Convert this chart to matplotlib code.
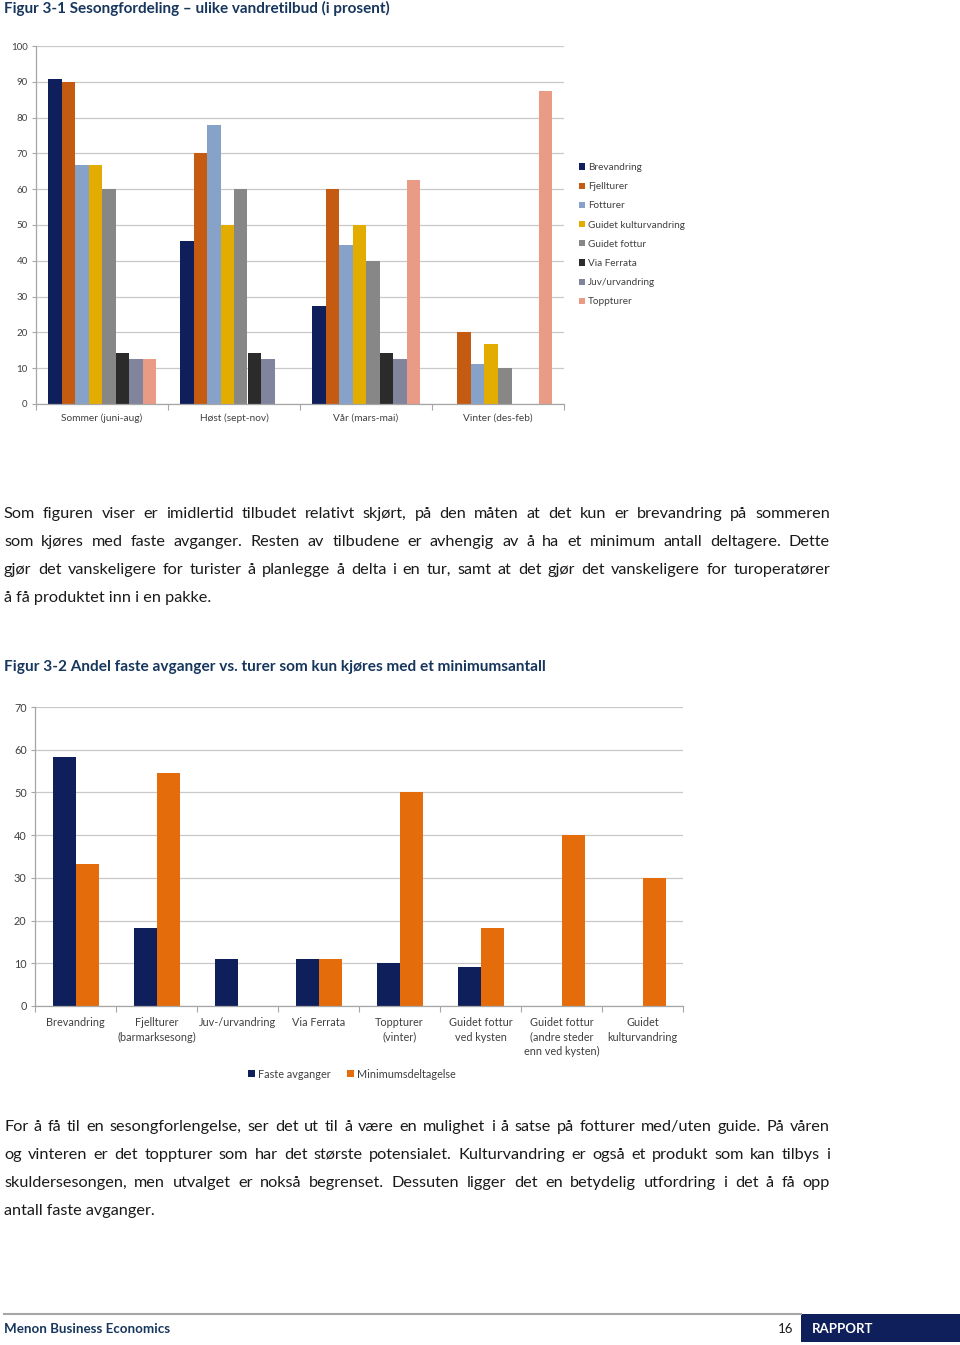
import numpy as np
import matplotlib
matplotlib.use("Agg")
import matplotlib.pyplot as plt
from matplotlib.patches import Rectangle

plt.rcParams['font.family'] = ['Lato', 'DejaVu Sans']

W, H = 960, 1345

# --- Figur 3-1 data ---
seasons = ['Sommer (juni-aug)', 'Høst (sept-nov)', 'Vår (mars-mai)', 'Vinter (des-feb)']
offers = ['Brevandring', 'Fjellturer', 'Fotturer', 'Guidet kulturvandring',
          'Guidet fottur', 'Via Ferrata', 'Juv/urvandring', 'Toppturer']
brevandring = [90.9, 45.5, 27.3, 0]
fjellturer = [90.0, 70.0, 60.0, 20.0]
fotturer = [66.7, 77.8, 44.4, 11.1]
kulturvandring = [66.7, 50.0, 50.0, 16.7]
guidet_fottur = [60.0, 60.0, 40.0, 10.0]
via_ferrata = [14.3, 14.3, 14.3, 0]
juv = [12.5, 12.5, 12.5, 0]
toppturer = [12.5, 0, 62.5, 87.5]
season_values = [brevandring, fjellturer, fotturer, kulturvandring,
                 guidet_fottur, via_ferrata, juv, toppturer]
offer_colors = ['#0E1F5B', '#C55A11', '#86A2C8', '#E3AC00',
                '#878787', '#2B2B2B', '#80859D', '#E99B85']

# --- Figur 3-2 data ---
tour_types = ['Brevandring', 'Fjellturer\n(barmarksesong)', 'Juv-/urvandring', 'Via Ferrata',
              'Toppturer\n(vinter)', 'Guidet fottur\nved kysten',
              'Guidet fottur\n(andre steder\nenn ved kysten)', 'Guidet\nkulturvandring']
faste_avganger = [58.3, 18.2, 11.1, 11.1, 10.0, 9.1, 0, 0]
minimumsdeltagelse = [33.3, 54.5, 0, 11.1, 50.0, 18.2, 40.0, 30.0]

title1 = 'Figur 3-1 Sesongfordeling – ulike vandretilbud (i prosent)'
title2 = 'Figur 3-2 Andel faste avganger vs. turer som kun kjøres med et minimumsantall'
para1 = [
    'Som figuren viser er imidlertid tilbudet relativt skjørt, på den måten at det kun er brevandring på sommeren',
    'som kjøres med faste avganger. Resten av tilbudene er avhengig av å ha et minimum antall deltagere. Dette',
    'gjør det vanskeligere for turister å planlegge å delta i en tur, samt at det gjør det vanskeligere for turoperatører',
    'å få produktet inn i en pakke.',
]
para2 = [
    'For å få til en sesongforlengelse, ser det ut til å være en mulighet i å satse på fotturer med/uten guide. På våren',
    'og vinteren er det toppturer som har det største potensialet. Kulturvandring er også et produkt som kan tilbys i',
    'skuldersesongen, men utvalget er nokså begrenset. Dessuten ligger det en betydelig utfordring i det å få opp',
    'antall faste avganger.',
]

NAVY = '#17365D'
TXT = '#1A1A1A'
GRID = '#C9C9C9'
LBL = '#404040'
BODY_SIZE = 11.7

fig = plt.figure(figsize=(W / 100, H / 100), dpi=100)
renderer = fig.canvas.get_renderer()


def rect(x0, y0, x1, y1):
    # pixel box (top-left origin) -> figure fraction rect
    return [x0 / W, 1 - y1 / H, (x1 - x0) / W, (y1 - y0) / H]


def fit_text(x, y, s, width, **kw):
    t = fig.text(x / W, 1 - y / H, s, va='center', ha='left', **kw)
    w = t.get_window_extent(renderer).width
    t.set_fontsize(t.get_fontsize() * width / w)
    return t


def justified(x0, x1, y, s, size, justify=True):
    # y is the text middle; words are placed on a common baseline
    yb = 1 - (y + 5) / H
    if not justify:
        fig.text(x0 / W, yb, s, fontsize=size, color=TXT, va='baseline', ha='left')
        return
    words = s.split()
    arts = [fig.text(0, yb, wd, fontsize=size, color=TXT, va='baseline', ha='left')
            for wd in words]
    widths = [a.get_window_extent(renderer).width for a in arts]
    gap = (x1 - x0 - sum(widths)) / (len(words) - 1)
    x = x0
    for a, wd in zip(arts, widths):
        a.set_x(x / W)
        x += wd + gap


def style_axes(ax, ymax, step):
    ax.set_ylim(0, ymax)
    ax.set_yticks(np.arange(0, ymax + 1, step))
    ax.yaxis.grid(True, color=GRID, lw=0.9)
    ax.set_axisbelow(True)
    for sp in ['top', 'right']:
        ax.spines[sp].set_visible(False)
    for sp in ['left', 'bottom']:
        ax.spines[sp].set_color('#A6A6A6')
        ax.spines[sp].set_linewidth(0.9)
    ax.tick_params(axis='y', length=3, width=0.8, color='#A6A6A6', pad=3,
                   labelsize=7, labelcolor=LBL)
    ax.tick_params(axis='x', which='major', length=0, labelcolor=LBL)
    ax.tick_params(axis='x', which='minor', length=4, width=0.8, color='#A6A6A6')


# ---------- Figur 3-1 ----------
fit_text(4, 8, title1, 386, fontsize=10, fontweight='bold', color=NAVY)

ax1 = fig.add_axes(rect(36, 46, 564, 404))
n = len(offers)
bw = 13.5 / 132
xs = np.arange(len(seasons))
handles = []
for i, (vals, col) in enumerate(zip(season_values, offer_colors)):
    b = ax1.bar(xs + (i - (n - 1) / 2) * bw, vals, bw, color=col, label=offers[i])
    handles.append(b)
ax1.set_xlim(-0.5, len(seasons) - 0.5)
style_axes(ax1, 100, 10)
ax1.set_xticks(xs)
ax1.set_xticklabels(seasons, fontsize=7.3)
ax1.set_xticks(np.arange(-0.5, len(seasons)), minor=True)
ax1.tick_params(axis='x', which='major', pad=7)

fig.legend(handles=handles, labels=offers, loc='upper left',
           bbox_to_anchor=(575 / W, 1 - 159 / H), frameon=False, fontsize=7.2,
           labelcolor=LBL, handlelength=0.6, handleheight=0.6, handletextpad=0.3,
           labelspacing=1.02, borderaxespad=0)

# ---------- paragraph 1 ----------
for k, line in enumerate(para1):
    justified(4, 830, 513 + 28 * k, line, BODY_SIZE, justify=k < len(para1) - 1)

# ---------- Figur 3-2 ----------
fit_text(4, 667, title2, 540, fontsize=10, fontweight='bold', color=NAVY)

ax2 = fig.add_axes(rect(35, 707, 683, 1006))
bw2 = 23 / 81
xs2 = np.arange(len(tour_types))
b1 = ax2.bar(xs2 - bw2 / 2, faste_avganger, bw2, color='#0E1F5B')
b2 = ax2.bar(xs2 + bw2 / 2, minimumsdeltagelse, bw2, color='#E46C0A')
ax2.set_xlim(-0.5, len(tour_types) - 0.5)
style_axes(ax2, 70, 10)
ax2.tick_params(axis='y', labelsize=7.8)
ax2.set_xticks(xs2)
ax2.set_xticklabels(tour_types, fontsize=7.8, linespacing=1.4, va='top')
ax2.set_xticks(np.arange(-0.5, len(tour_types)), minor=True)
ax2.tick_params(axis='x', which='major', pad=8)

fig.legend(handles=[b1, b2], labels=['Faste avganger', 'Minimumsdeltagelse'],
           loc='center', bbox_to_anchor=(352 / W, 1 - 1074 / H), ncol=2,
           frameon=False, fontsize=7.8, labelcolor=LBL, handlelength=0.6,
           handleheight=0.6, handletextpad=0.3, columnspacing=1.5, borderaxespad=0)

# ---------- paragraph 2 ----------
for k, line in enumerate(para2):
    justified(4, 830, 1126 + 28 * k, line, BODY_SIZE, justify=k < len(para2) - 1)

# ---------- footer ----------
fig.add_artist(plt.Line2D([4 / W, 801 / W], [1 - 1314 / H] * 2, color='#A6A6A6', lw=1.5))
fig.add_artist(Rectangle((801 / W, 1 - 1342 / H), 159 / W, 28 / H,
                         transform=fig.transFigure, color='#0E1F5B', lw=0))
fit_text(4, 1329, 'Menon Business Economics', 166, fontsize=9.5, fontweight='bold', color=NAVY)
fig.text(793 / W, 1 - 1329 / H, '16', fontsize=9.5, color=TXT, ha='right', va='center')
fig.text(812 / W, 1 - 1329 / H, 'RAPPORT', fontsize=9.5, fontweight='bold',
         color='white', ha='left', va='center')

fig.savefig('out.png', dpi=100)
